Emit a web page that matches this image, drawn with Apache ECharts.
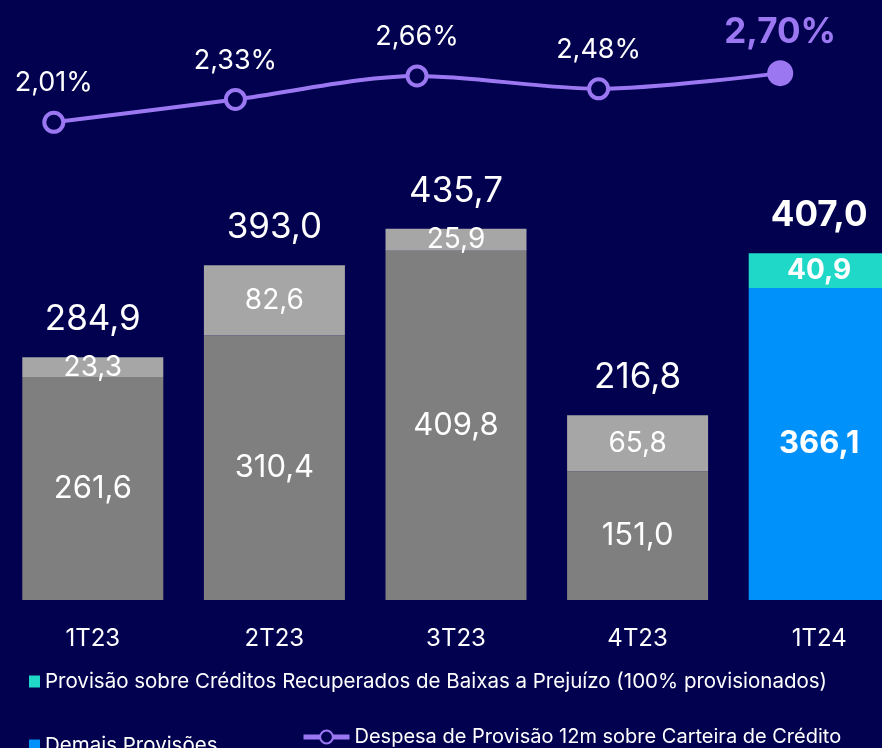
<!DOCTYPE html>
<html>
<head>
<meta charset="utf-8">
<script src="https://cdn.jsdelivr.net/npm/echarts@6/dist/echarts.min.js"></script>
<style>
html, body { margin: 0; padding: 0; background: #020150; overflow: hidden; }
#chart { width: 952px; height: 748px; margin-left: -40px; }
</style>
</head>
<body>
<div id="chart"></div>
<script>
// dados
var categories = ['1T23', '2T23', '3T23', '4T23', '1T24'];
var demais = [261.6, 310.4, 409.8, 151.0, 366.1];
var recuperados = [23.3, 82.6, 25.9, 65.8, 40.9];
var totais = [284.9, 393.0, 435.7, 216.8, 407.0];
var taxa = [2.01, 2.33, 2.66, 2.48, 2.70];

var nomeRec = 'Provisão sobre Créditos Recuperados de Baixas a Prejuízo (100% provisionados)';
var nomeDem = 'Demais Provisões';
var nomeTaxa = 'Despesa de Provisão 12m sobre Carteira de Crédito';

var fonte = 'Inter, "Noto Sans", sans-serif';
var fundo = '#020150';
var cinza = '#7f7f7f';
var cinzaClaro = '#a6a6a6';
var azul = '#0091fa';
var verde = '#20d8c8';
var roxo = '#9b78f2';

function fmt(v) {
	return v.toFixed(1).replace('.', ',');
}
function pct(v) {
	return v.toFixed(2).replace('.', ',') + '%';
}

// cores por barra, a ultima e destacada
function itens(valores, corNormal, corUltima) {
	var out = [];
	for (var i = 0; i < valores.length; i++) {
		var ultima = i == valores.length - 1;
		out.push({
			value : valores[i],
			itemStyle : { color : ultima ? corUltima : corNormal },
			label : { fontWeight : ultima ? 'bold' : 'normal' }
		});
	}
	return out;
}

var pontos = [];
for (var i = 0; i < taxa.length; i++) {
	var ultima = i == taxa.length - 1;
	pontos.push({
		value : taxa[i],
		symbolSize : ultima ? 26 : 19,
		itemStyle : ultima ? { color : roxo, borderWidth : 0 } : {},
		label : ultima ? { color : roxo, fontWeight : 'bold', fontSize : 35, distance : 10 } : {}
	});
}

var totaisItens = [];
for (var i = 0; i < totais.length; i++) {
	totaisItens.push({
		value : totais[i],
		label : { fontWeight : i == totais.length - 1 ? 'bold' : 'normal' }
	});
}

// o canvas comeca 40px a esquerda da janela
var myChart = echarts.init(document.getElementById('chart'));
var option = {
	backgroundColor : fundo,
	animation : false,
	textStyle : { fontFamily : fonte },
	grid : [
		{ left : 42, width : 908, top : 174, bottom : 148 },
		{ left : 3, width : 908, top : 66, height : 57 }
	],
	legend : [
		{
			left : 64, top : 666, itemWidth : 11, itemHeight : 12, itemGap : 3,
			icon : 'rect',
			textStyle : { color : '#ffffff', fontSize : 20.5, fontFamily : fonte },
			data : [nomeRec]
		},
		{
			left : 64, top : 730, itemWidth : 11, itemHeight : 12, itemGap : 3,
			icon : 'rect',
			textStyle : { color : '#ffffff', fontSize : 20.5, fontFamily : fonte },
			data : [nomeDem]
		},
		{
			left : 336, top : 722, itemWidth : 46, itemHeight : 16, itemGap : 4,
			lineStyle : { width : 5 },
			textStyle : { color : '#ffffff', fontSize : 20, fontFamily : fonte },
			data : [nomeTaxa]
		}
	],
	xAxis : [
		{
			type : 'category', gridIndex : 0, data : categories,
			axisLine : { show : false }, axisTick : { show : false },
			axisLabel : { color : '#ffffff', fontSize : 24, margin : 27, fontFamily : fonte }
		},
		{
			type : 'category', gridIndex : 1, data : categories,
			axisLine : { show : false }, axisTick : { show : false },
			axisLabel : { show : false }
		}
	],
	yAxis : [
		{ type : 'value', gridIndex : 0, min : 0, max : 500, show : false },
		{ type : 'value', gridIndex : 1, min : 2.0, max : 2.8, show : false }
	],
	series : [
		{
			name : nomeDem, type : 'bar', stack : 'p', barWidth : 141,
			itemStyle : { color : azul },
			label : {
				show : true, position : 'inside', color : '#ffffff', fontSize : 31,
				fontFamily : fonte, formatter : function(p) { return fmt(p.value); }
			},
			data : itens(demais, cinza, azul)
		},
		{
			name : nomeRec, type : 'bar', stack : 'p', barWidth : 141,
			itemStyle : { color : verde },
			label : {
				show : true, position : 'inside', color : '#ffffff', fontSize : 28,
				fontFamily : fonte, formatter : function(p) { return fmt(p.value); }
			},
			data : itens(recuperados, cinzaClaro, verde)
		},
		{
			name : 'total', type : 'bar', barWidth : 141, barGap : '-100%', silent : true,
			itemStyle : { color : 'rgba(0,0,0,0)' }, z : 1,
			label : {
				show : true, position : 'top', distance : 20, color : '#ffffff', fontSize : 35,
				fontFamily : fonte, formatter : function(p) { return fmt(p.value); }
			},
			data : totaisItens
		},
		{
			name : nomeTaxa, type : 'line', xAxisIndex : 1, yAxisIndex : 1, smooth : 0.3,
			symbol : 'circle', symbolSize : 19,
			lineStyle : { color : roxo, width : 4 },
			itemStyle : { color : fundo, borderColor : roxo, borderWidth : 4 },
			label : {
				show : true, position : 'top', distance : 14, color : '#ffffff', fontSize : 27,
				fontFamily : fonte, formatter : function(p) { return pct(p.value); }
			},
			data : pontos
		}
	]
};
myChart.setOption(option);
</script>
</body>
</html>
